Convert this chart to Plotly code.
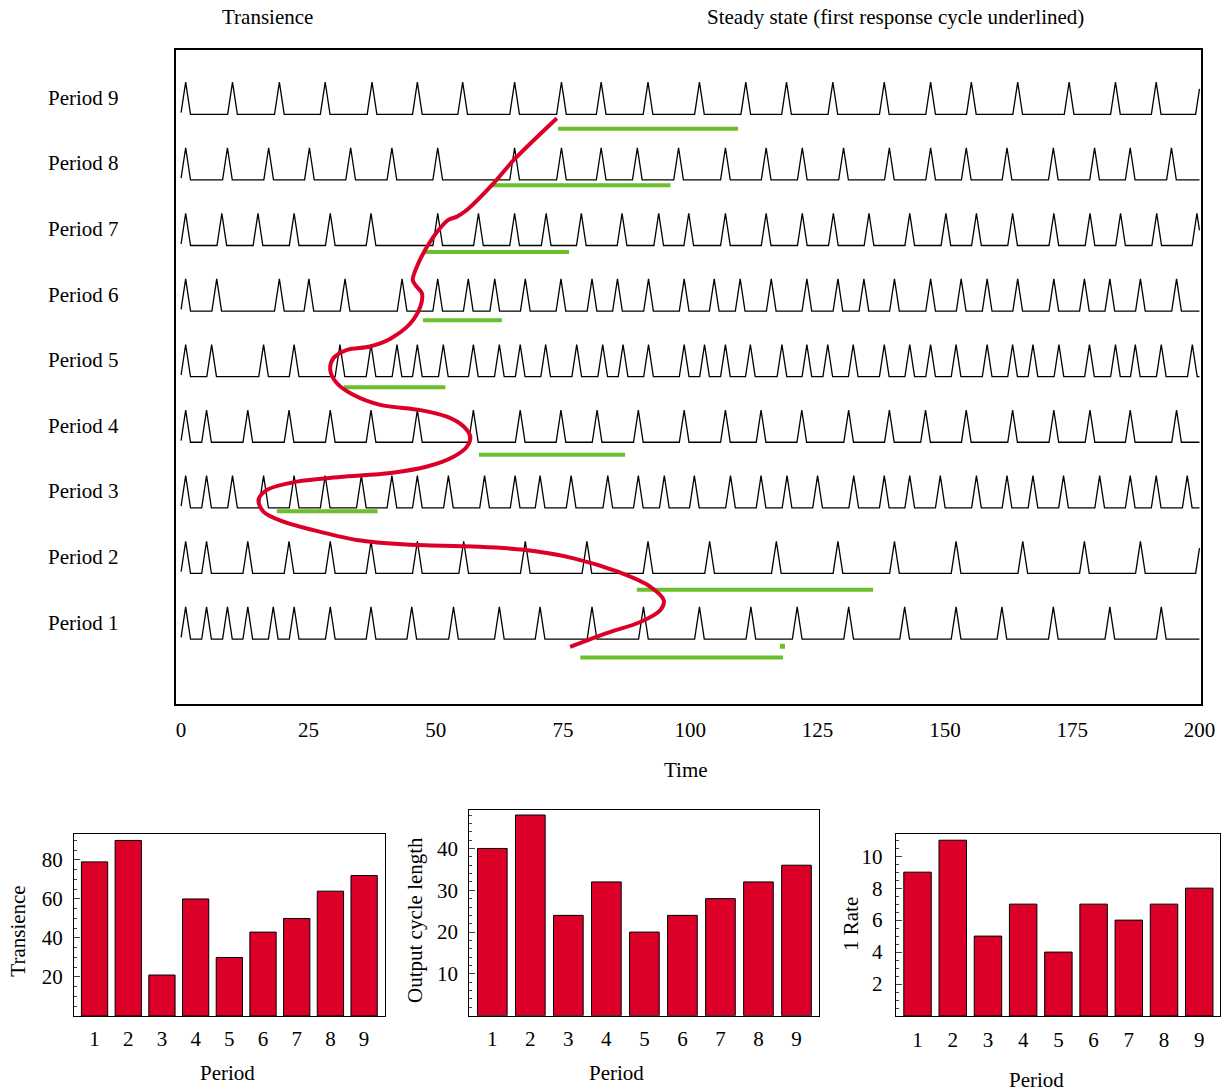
import numpy as np
import plotly.graph_objects as go

# ---------------- data ----------------
periods = [1, 2, 3, 4, 5, 6, 7, 8, 9]

spikes_p1 = [0.9, 5.0, 9.1, 13.1, 18.1, 22.2, 29.3, 37.3, 45.3, 53.5, 62.5, 70.5, 80.7, 90.8,
             101.8, 111.9, 121.0, 131.1, 142.1, 152.2, 161.2, 171.3, 182.4, 192.5]
spikes_p2 = [0.9, 5.0, 13.1, 21.2, 29.3, 37.3, 46.4, 55.5, 67.6, 79.7, 91.7,
             103.8, 116.9, 129.0, 140.1, 152.2, 165.3, 177.4, 188.4, 200.2]
spikes_p3 = [0.9, 5.0, 10.1, 16.2, 22.2, 28.3, 35.4, 41.4, 46.4, 52.5, 59.6, 65.6, 70.5, 76.6,
             83.8, 89.8, 94.9, 100.8, 107.9, 113.9, 119.0, 125.0, 132.1, 138.1, 143.1, 149.1,
             156.2, 162.2, 167.3, 173.3, 180.4, 186.4, 191.5, 197.6]
spikes_p4 = [0.9, 5.0, 13.1, 21.2, 29.3, 37.3, 46.4, 57.4, 66.6, 74.6, 81.7, 89.8, 98.8,
             106.9, 113.9, 121.9, 131.1, 139.1, 146.2, 154.2, 163.3, 171.4, 178.5, 186.4, 195.5]
spikes_p5 = [0.9, 6.0, 16.2, 22.2, 31.2, 37.3, 42.4, 46.4, 51.5, 57.4, 62.5, 66.6, 71.6, 77.7,
             82.8, 86.8, 91.8, 98.8, 102.8, 106.9, 111.8, 118.0, 122.9, 127.0, 132.0, 138.1,
             143.1, 147.2, 152.2, 158.3, 163.3, 167.3, 172.4, 178.4, 183.5, 187.4, 192.5, 198.6]
spikes_p6 = [0.9, 7.0, 19.3, 25.1, 32.2, 43.4, 50.4, 56.4, 61.6, 67.6, 74.6, 80.7, 85.7, 91.8,
             98.8, 104.7, 109.8, 115.9, 122.9, 129.0, 134.1, 140.1, 147.2, 153.2, 158.3, 164.3,
             171.4, 177.4, 182.4, 188.4, 195.5]
spikes_p7 = [0.9, 8.0, 15.1, 22.2, 29.3, 37.3, 50.4, 58.4, 65.5, 71.7, 78.6, 86.6, 93.8, 99.7,
             106.9, 114.9, 122.0, 128.1, 135.1, 143.1, 150.2, 156.2, 163.3, 171.4, 178.5, 184.5,
             191.6, 199.5]
spikes_p8 = [0.9, 9.1, 17.2, 25.2, 33.3, 41.4, 50.4, 65.5, 74.7, 82.5, 89.6, 97.7,
             106.9, 114.9, 122.0, 130.1, 139.1, 147.2, 154.2, 162.2, 171.3, 179.4, 186.4, 194.5]
spikes_p9 = [0.9, 10.1, 19.3, 28.3, 37.5, 46.4, 55.3, 65.5, 74.7, 82.5, 91.7,
             101.8, 110.9, 118.9, 128.0, 138.1, 147.2, 155.2, 164.3, 174.4, 183.5, 191.5, 200.2]
spike_trains = [spikes_p1, spikes_p2, spikes_p3, spikes_p4, spikes_p5,
                spikes_p6, spikes_p7, spikes_p8, spikes_p9]

# first steady-state response cycle (underline) per period
cycle_start = [78.4, 89.5, 18.8, 58.5, 32.0, 47.5, 47.9, 61.0, 74.0]
cycle_end = [118.2, 135.9, 38.6, 87.2, 51.9, 63.0, 76.2, 96.1, 109.4]
cycle_level = [-0.28, 0.75, 1.95, 2.81, 3.84, 4.86, 5.90, 6.92, 7.78]
cycle_mark_t = [118.1]
cycle_mark_level = [-0.11]

# transient boundary curve (time, row level)
boundary_t = [73.8, 65.3, 61.4, 56.1, 54.2, 52.5, 50.6, 48.3, 46.6, 45.5, 46.3, 47.3, 47.0,
              45.0, 41.1, 37.1, 32.6, 29.9, 29.3, 30.6, 33.9, 39.1, 47.0, 52.2, 55.5, 56.8,
              56.1, 53.5, 48.3, 41.1, 31.2, 22.7, 16.8, 15.2, 16.2, 20.1, 26.0, 34.5, 44.3,
              57.4, 67.3, 77.1, 85.6, 92.1, 94.8, 94.1, 90.2, 83.6, 76.4]
boundary_level = [7.94, 7.30, 6.95, 6.54, 6.44, 6.39, 6.24, 5.98, 5.73, 5.47, 5.37, 5.27, 5.07,
                  4.81, 4.58, 4.46, 4.41, 4.28, 4.10, 3.90, 3.72, 3.57, 3.49, 3.39, 3.24, 3.08,
                  2.93, 2.78, 2.63, 2.53, 2.47, 2.40, 2.27, 2.12, 1.94, 1.79, 1.66, 1.51, 1.44,
                  1.41, 1.36, 1.23, 1.03, 0.80, 0.59, 0.44, 0.26, 0.09, -0.12]

transience = [79, 90, 21, 60, 30, 43, 50, 64, 72]
output_cycle_length = [40, 48, 24, 32, 20, 24, 28, 32, 36]
one_rate = [9, 11, 5, 7, 4, 7, 6, 7, 8]

time_ticks = [0, 25, 50, 75, 100, 125, 150, 175, 200]

# ---------------- styling ----------------
REF_W, REF_H = 1225, 1091
W, H = 1239, 1091  # page width compensates the photographed horizontal scale
FONT = "Liberation Serif"
RED = "#DC0028"
GREEN = "#6ABF2A"
SPIKE_H = 0.49
HALF_W = 0.95
T_MAX = 200


def px(x):
    return min(1.0, max(0.0, x / REF_W))


def py(y):
    return min(1.0, max(0.0, 1 - y / REF_H))


def spike_path(times, base):
    xs = [min(0.0, times[0] - HALF_W)]
    ys = [base]
    for t in times:
        xs += [t - HALF_W, t, t + HALF_W]
        ys += [base, base + SPIKE_H, base]
    xs.append(max(T_MAX, xs[-1]) + 1)
    ys.append(base)
    xs = np.array(xs)
    ys = np.array(ys)
    grid = np.unique(np.concatenate([xs[(xs >= 0) & (xs <= T_MAX)], [0.0, T_MAX]]))
    return grid, np.interp(grid, xs, ys)


fig = go.Figure()

for i, times in enumerate(spike_trains):
    gx, gy = spike_path(times, i)
    fig.add_trace(go.Scatter(x=gx, y=gy, mode="lines", line=dict(color="black", width=1.3),
                             hoverinfo="skip", showlegend=False, xaxis="x", yaxis="y"))

for s, e, lv in zip(cycle_start, cycle_end, cycle_level):
    fig.add_trace(go.Scatter(x=[s, e], y=[lv, lv], mode="lines", line=dict(color=GREEN, width=4),
                             showlegend=False, xaxis="x", yaxis="y"))
fig.add_trace(go.Scatter(x=cycle_mark_t, y=cycle_mark_level, mode="markers",
                         marker=dict(symbol="square", size=5, color=GREEN),
                         showlegend=False, xaxis="x", yaxis="y"))

fig.add_trace(go.Scatter(x=boundary_t, y=boundary_level, mode="lines",
                         line=dict(color=RED, width=4, shape="spline", smoothing=0.9),
                         showlegend=False, xaxis="x", yaxis="y"))

bar_style = dict(marker=dict(color=RED, line=dict(color="black", width=1)), width=0.78,
                 showlegend=False)
fig.add_trace(go.Bar(x=periods, y=transience, xaxis="x2", yaxis="y2", **bar_style))
fig.add_trace(go.Bar(x=periods, y=output_cycle_length, xaxis="x3", yaxis="y3", **bar_style))
fig.add_trace(go.Bar(x=periods, y=one_rate, xaxis="x4", yaxis="y4", **bar_style))

tick_font = dict(family=FONT, size=21, color="black")
frame = dict(showline=True, mirror=True, linecolor="black", showgrid=False, zeroline=False)

layout = dict(
    width=W, height=H, margin=dict(l=0, r=0, t=0, b=0), autosize=False,
    plot_bgcolor="white", paper_bgcolor="white",
    font=dict(family=FONT, size=21, color="black"),
    xaxis=dict(domain=[px(176), px(1201)], range=[-1, 200.3], tickvals=time_ticks,
               ticks="", tickfont=tick_font, ticklabelstandoff=6, linewidth=2,
               anchor="y", **frame),
    yaxis=dict(domain=[py(704), py(50)], range=[-0.99, 8.98], showticklabels=False,
               ticks="", linewidth=2, anchor="x", **frame),
    xaxis2=dict(domain=[px(74), px(385)], range=[0.39, 9.62], tickvals=periods, ticks="",
                tickfont=tick_font, ticklabelstandoff=4, linewidth=1, anchor="y2", **frame),
    yaxis2=dict(domain=[py(1016), py(834)], range=[0, 93.3], tickvals=[20, 40, 60, 80],
                ticks="inside", ticklen=6, tickfont=tick_font, ticklabelstandoff=6,
                minor=dict(dtick=5, ticks="inside", ticklen=3, tick0=0),
                linewidth=1, anchor="x2", **frame),
    xaxis3=dict(domain=[px(469.3), px(819.3)], range=[0.395, 9.6], tickvals=periods, ticks="",
                tickfont=tick_font, ticklabelstandoff=4, linewidth=1, anchor="y3", **frame),
    yaxis3=dict(domain=[py(1015.7), py(810)], range=[0, 49.2], tickvals=[10, 20, 30, 40],
                ticks="inside", ticklen=6, tickfont=tick_font, ticklabelstandoff=6,
                minor=dict(dtick=2, ticks="inside", ticklen=3, tick0=0),
                linewidth=1, anchor="x3", **frame),
    xaxis4=dict(domain=[px(895.7), px(1220)], range=[0.38, 9.59], tickvals=periods, ticks="",
                tickfont=tick_font, ticklabelstandoff=5, linewidth=1, anchor="y4", **frame),
    yaxis4=dict(domain=[py(1016), py(834.3)], range=[0, 11.37], tickvals=[2, 4, 6, 8, 10],
                ticks="inside", ticklen=6, tickfont=tick_font, ticklabelstandoff=8,
                minor=dict(dtick=0.5, ticks="inside", ticklen=3, tick0=0),
                linewidth=1, anchor="x4", **frame),
)
fig.update_layout(**layout)

ann = []
txt = dict(showarrow=False, font=dict(family=FONT, size=21, color="black"))
ann.append(dict(text="Transience", x=px(267), y=py(17), xref="paper", yref="paper",
                xanchor="center", yanchor="middle", **txt))
ann.append(dict(text="Steady state (first response cycle underlined)", x=px(895), y=py(17),
                xref="paper", yref="paper", xanchor="center", yanchor="middle", **txt))
ann.append(dict(text="Time", x=px(686), y=py(770), xref="paper", yref="paper",
                xanchor="center", yanchor="middle", **txt))
for i, p in enumerate(periods):
    ann.append(dict(text=f"Period {p}", x=px(121), y=i + 0.25, xref="paper", yref="y",
                    xanchor="right", yanchor="middle", **txt))
ann.append(dict(text="Period", x=px(227.5), y=py(1073), xref="paper", yref="paper",
                xanchor="center", yanchor="middle", **txt))
ann.append(dict(text="Period", x=px(616.7), y=py(1073), xref="paper", yref="paper",
                xanchor="center", yanchor="middle", **txt))
ann.append(dict(text="Period", x=px(1036.7), y=py(1080), xref="paper", yref="paper",
                xanchor="center", yanchor="middle", **txt))
ann.append(dict(text="Transience", x=px(18), y=py(931.7), xref="paper", yref="paper",
                textangle=-90, xanchor="center", yanchor="middle", **txt))
ann.append(dict(text="Output cycle length", x=px(415), y=py(920), xref="paper", yref="paper",
                textangle=-90, xanchor="center", yanchor="middle", **txt))
ann.append(dict(text="1 Rate", x=px(851), y=py(924), xref="paper", yref="paper",
                textangle=-90, xanchor="center", yanchor="middle", **txt))
fig.update_layout(annotations=ann)

fig.write_html(
    "out.html",
    config={"responsive": False, "displayModeBar": False},
    post_script="document.body.style.margin='0';document.body.style.overflow='hidden';",
)
